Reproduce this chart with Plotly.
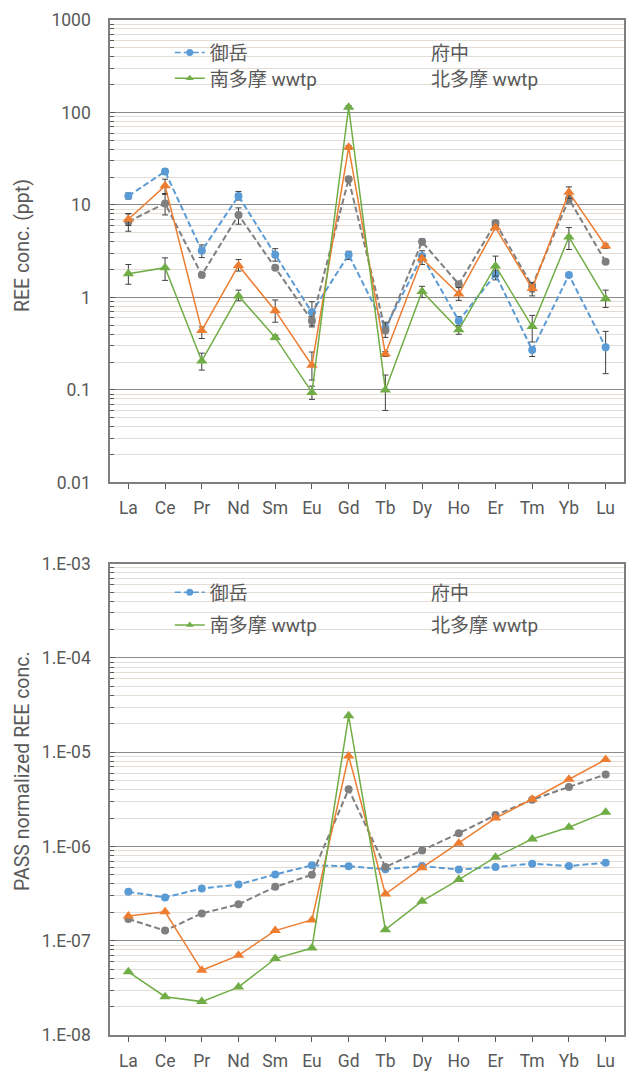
import plotly.graph_objects as go

elements = ["La", "Ce", "Pr", "Nd", "Sm", "Eu", "Gd", "Tb", "Dy", "Ho", "Er", "Tm", "Yb", "Lu"]
series_names = ["御岳", "府中", "南多摩 wwtp", "北多摩 wwtp"]

# ---- top chart: REE concentration (ppt) ----
conc_ontake = [12.5, 23, 3.2, 12.5, 2.9, 0.69, 2.9, 0.47, 2.8, 0.56, 1.78, 0.27, 1.75, 0.29]
conc_ontake_lo = [11.6, 21.5, 2.7, 11.3, 2.47, 0.5, 2.57, 0.42, 2.27, 0.5, 1.55, 0.23, 1.65, 0.15]
conc_ontake_hi = [13.5, 24.5, 3.7, 14.0, 3.37, 0.9, 3.16, 0.52, 3.2, 0.62, 1.95, 0.29, 1.85, 0.43]

conc_fuchu = [6.6, 10.4, 1.75, 7.8, 2.1, 0.56, 19, 0.44, 4.0, 1.39, 6.4, 1.33, 11.6, 2.43]
conc_fuchu_lo = [5.2, 7.8, 1.7, 6.2, 2.05, 0.48, 18, 0.37, 3.7, 1.35, 6.0, 1.15, 10.5, 2.35]
conc_fuchu_hi = [8.1, 13.3, 1.8, 9.3, 2.15, 0.62, 20, 0.54, 4.3, 1.43, 6.8, 1.4, 12.5, 2.5]

conc_minamitama = [1.8, 2.1, 0.206, 1.04, 0.37, 0.094, 114, 0.10, 1.16, 0.447, 2.19, 0.485, 4.5, 0.97]
conc_minamitama_lo = [1.39, 1.53, 0.164, 0.92, 0.35, 0.079, 110, 0.06, 1.0, 0.40, 1.7, 0.33, 3.3, 0.78]
conc_minamitama_hi = [2.27, 2.68, 0.25, 1.2, 0.39, 0.11, 118, 0.145, 1.32, 0.49, 2.8, 0.64, 5.7, 1.2]

conc_kitatama = [7.0, 16.1, 0.44, 2.22, 0.72, 0.185, 42, 0.245, 2.64, 1.09, 5.7, 1.25, 13.7, 3.6]
conc_kitatama_lo = [6.0, 13.0, 0.36, 1.93, 0.54, 0.128, 40, 0.23, 2.5, 0.93, 5.4, 1.04, 11.8, 3.4]
conc_kitatama_hi = [8.0, 19.0, 0.48, 2.57, 0.94, 0.257, 44, 0.26, 2.8, 1.28, 6.0, 1.45, 15.7, 3.8]

# ---- bottom chart: PAAS normalized ----
norm_ontake = [3.3e-7, 2.88e-7, 3.58e-7, 3.95e-7, 5.05e-7, 6.3e-7, 6.16e-7, 5.73e-7, 6.2e-7, 5.68e-7, 6.05e-7, 6.56e-7, 6.2e-7, 6.72e-7]
norm_fuchu = [1.7e-7, 1.28e-7, 1.95e-7, 2.43e-7, 3.73e-7, 5.0e-7, 4.04e-6, 6.05e-7, 9.08e-7, 1.38e-6, 2.15e-6, 3.13e-6, 4.28e-6, 5.8e-6]
norm_minamitama = [4.68e-8, 2.55e-8, 2.26e-8, 3.22e-8, 6.46e-8, 8.36e-8, 2.43e-5, 1.31e-7, 2.63e-7, 4.45e-7, 7.7e-7, 1.2e-6, 1.6e-6, 2.3e-6]
norm_kitatama = [1.83e-7, 2.03e-7, 4.86e-8, 7.0e-8, 1.28e-7, 1.66e-7, 9.1e-6, 3.13e-7, 5.96e-7, 1.08e-6, 2.0e-6, 3.17e-6, 5.15e-6, 8.36e-6]

top_tickvals = [0.01, 0.1, 1, 10, 100, 1000]
top_ticktext = ["0.01", "0.1", "1", "10", "100", "1000"]
bot_tickvals = [1e-8, 1e-7, 1e-6, 1e-5, 1e-4, 1e-3]
bot_ticktext = ["1.E-08", "1.E-07", "1.E-06", "1.E-05", "1.E-04", "1.E-03"]

BLUE = "#5b9bd5"
GRAY = "#7f7f7f"
ORANGE = "#ed7d31"
GREEN = "#70ad47"
TXT = "#595959"
FONT = "Roboto, 'Noto Sans CJK JP', sans-serif"

styles = {
    "御岳": dict(color=BLUE, dash="6px,3px", width=2, symbol="circle", size=8),
    "府中": dict(color=GRAY, dash="6px,3px", width=2, symbol="circle", size=8),
    "南多摩 wwtp": dict(color=GREEN, dash="solid", width=1.5, symbol="triangle-up", size=10),
    "北多摩 wwtp": dict(color=ORANGE, dash="solid", width=1.5, symbol="triangle-up", size=10),
}


def err(vals, lo, hi):
    return dict(type="data", symmetric=False,
                array=[h - v for v, h in zip(vals, hi)],
                arrayminus=[v - l for v, l in zip(vals, lo)],
                color="#404040", thickness=1, width=3)


fig = go.Figure()

top_data = [
    ("御岳", conc_ontake, conc_ontake_lo, conc_ontake_hi),
    ("府中", conc_fuchu, conc_fuchu_lo, conc_fuchu_hi),
    ("北多摩 wwtp", conc_kitatama, conc_kitatama_lo, conc_kitatama_hi),
    ("南多摩 wwtp", conc_minamitama, conc_minamitama_lo, conc_minamitama_hi),
]
for name, vals, lo, hi in top_data:
    s = styles[name]
    fig.add_trace(go.Scatter(
        x=elements, y=vals, name=name, mode="lines+markers",
        line=dict(color=s["color"], dash=s["dash"], width=s["width"]),
        marker=dict(symbol=s["symbol"], size=s["size"], color=s["color"]),
        error_y=err(vals, lo, hi), showlegend=False,
        xaxis="x", yaxis="y"))

bot_data = [
    ("御岳", norm_ontake),
    ("府中", norm_fuchu),
    ("北多摩 wwtp", norm_kitatama),
    ("南多摩 wwtp", norm_minamitama),
]
for name, vals in bot_data:
    s = styles[name]
    fig.add_trace(go.Scatter(
        x=elements, y=vals, name=name, mode="lines+markers",
        line=dict(color=s["color"], dash=s["dash"], width=s["width"]),
        marker=dict(symbol=s["symbol"], size=s["size"], color=s["color"]),
        showlegend=False, xaxis="x2", yaxis="y2"))

W, H = 632, 1077
MT, MB, ML, MR = 20, 32, 110, 6
PH = H - MT - MB
PW = W - ML - MR


def py(p):
    # window pixel y -> paper fraction
    return (H - MB - p) / PH


def px(p):
    return (p - ML) / PW


# one legend per entry so each sits exactly where the reference has it
# (the reference legend shows symbols only for 御岳 and 南多摩 wwtp)
legend_slots = [
    ("御岳", "legend", "x", "y", 170, 53),
    ("府中", "legend2", "x", "y", 392, 53),
    ("南多摩 wwtp", "legend3", "x", "y", 170, 79),
    ("北多摩 wwtp", "legend4", "x", "y", 392, 79),
    ("御岳", "legend5", "x2", "y2", 170, 598),
    ("府中", "legend6", "x2", "y2", 392, 598),
    ("南多摩 wwtp", "legend7", "x2", "y2", 170, 631),
    ("北多摩 wwtp", "legend8", "x2", "y2", 392, 631),
]
legend_layout = {}
for name, leg, xa, ya, lx, ly in legend_slots:
    s = styles[name]
    visible_symbol = name in ("御岳", "南多摩 wwtp")
    col = s["color"] if visible_symbol else "rgba(0,0,0,0)"
    fig.add_trace(go.Scatter(
        x=[None], y=[None], name=name, mode="lines+markers",
        line=dict(color=col, dash=s["dash"], width=1.5),
        marker=dict(symbol=s["symbol"], size=7, color=col),
        legend=leg, xaxis=xa, yaxis=ya, showlegend=True, hoverinfo="skip"))
    legend_layout[leg] = dict(orientation="h", xanchor="left", yanchor="middle",
                              x=px(lx), y=py(ly), bgcolor="rgba(0,0,0,0)",
                              font=dict(size=19, color=TXT, family=FONT), itemwidth=30)

minor_top = [m * 10 ** e for e in range(-2, 3) for m in range(2, 10)]
minor_bot = [m * 10 ** e for e in range(-8, -3) for m in range(2, 10)]

tick_font = dict(size=17.5, color=TXT, family=FONT)

xcommon = dict(type="category", categoryorder="array", categoryarray=elements,
               range=[-0.5, 13.5], showgrid=False, showline=True, linecolor=GRAY,
               linewidth=1.5, mirror=True, ticks="outside", ticklen=5, tickcolor=TXT,
               ticklabelstandoff=4, tickfont=tick_font, zeroline=False)


def ycommon(tv, tt, minor_vals):
    return dict(type="log", tickmode="array", tickvals=tv, ticktext=tt,
                showgrid=True, gridcolor="#8a8a8a", gridwidth=1.3,
                showline=True, linecolor=GRAY, linewidth=1.5, mirror=True,
                ticks="inside", ticklen=5, tickcolor=TXT,
                ticklabelstandoff=14, tickfont=tick_font,
                minor=dict(tickmode="array", tickvals=minor_vals, ticks="inside",
                           ticklen=4, tickcolor=TXT, showgrid=True,
                           gridcolor="#e4ddd6", gridwidth=1),
                zeroline=False)


title_font = dict(size=19.5, color=TXT, family=FONT)

fig.update_layout(
    width=W, height=H,
    margin=dict(l=ML, r=MR, t=MT, b=MB),
    paper_bgcolor="white", plot_bgcolor="white",
    font=dict(family=FONT, color=TXT),
    xaxis=dict(**xcommon, domain=[0, 1], anchor="y"),
    yaxis=dict(**ycommon(top_tickvals, top_ticktext, minor_top),
               range=[-2, 3], domain=[py(487), 1], anchor="x"),
    xaxis2=dict(**xcommon, domain=[0, 1], anchor="y2"),
    yaxis2=dict(**ycommon(bot_tickvals, bot_ticktext, minor_bot),
                range=[-8, -3], domain=[0, py(569)], anchor="x2"),
    shapes=[
        dict(type="rect", xref="paper", yref="paper", x0=px(130), x1=px(597),
             y0=py(100), y1=py(31), fillcolor="white", line=dict(width=0), layer="between"),
        dict(type="rect", xref="paper", yref="paper", x0=px(130), x1=px(597),
             y0=py(652), y1=py(580), fillcolor="white", line=dict(width=0), layer="between"),
    ],
    annotations=[
        dict(text="REE conc. (ppt)", xref="paper", yref="paper", x=px(22), y=py(248),
             xanchor="center", yanchor="middle",
             textangle=-90, showarrow=False, font=title_font),
        dict(text="PASS normalized REE conc.", xref="paper", yref="paper", x=px(22), y=py(778),
             xanchor="center", yanchor="middle",
             textangle=-90, showarrow=False, font=title_font),
    ],
    **legend_layout,
)

# remove the default 8px page margin so the figure fills the window exactly
fig.write_html("out.html", config={"displayModeBar": False},
               post_script="document.body.style.margin='0px';document.body.style.overflow='hidden';")
